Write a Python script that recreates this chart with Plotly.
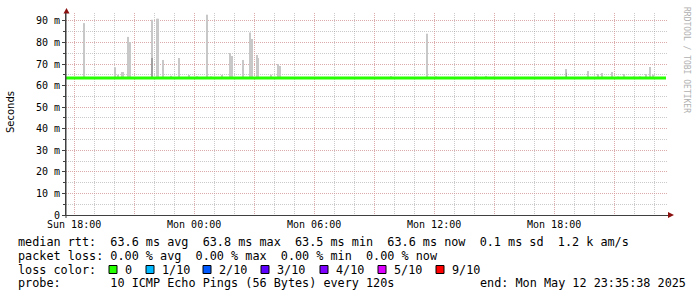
import plotly.graph_objects as go

# ---------------- data ----------------
range_start = "2025-05-11 17:35:38"
range_end = "2025-05-12 23:41:38"

median_times = [
    "2025-05-11 17:35:38", "2025-05-11 18:35:38", "2025-05-11 19:35:38", "2025-05-11 20:35:38",
    "2025-05-11 21:35:38", "2025-05-11 22:35:38", "2025-05-11 23:35:38", "2025-05-12 00:35:38",
    "2025-05-12 01:35:38", "2025-05-12 02:35:38", "2025-05-12 03:35:38", "2025-05-12 04:35:38",
    "2025-05-12 05:35:38", "2025-05-12 06:35:38", "2025-05-12 07:35:38", "2025-05-12 08:35:38",
    "2025-05-12 09:35:38", "2025-05-12 10:35:38", "2025-05-12 11:35:38", "2025-05-12 12:35:38",
    "2025-05-12 13:35:38", "2025-05-12 14:35:38", "2025-05-12 15:35:38", "2025-05-12 16:35:38",
    "2025-05-12 17:35:38", "2025-05-12 18:35:38", "2025-05-12 19:35:38", "2025-05-12 20:35:38",
    "2025-05-12 21:35:38", "2025-05-12 22:35:38", "2025-05-12 23:35:38",
]
median_ms = [63.6, 63.6, 63.5, 63.6, 63.6, 63.7, 63.6, 63.6, 63.6, 63.5, 63.6, 63.6, 63.6, 63.6,
             63.6, 63.5, 63.6, 63.6, 63.6, 63.6, 63.7, 63.6, 63.6, 63.6, 63.5, 63.6, 63.6, 63.6,
             63.6, 63.6, 63.6]

smoke_base_ms = 63.4
smoke_times = [
    "2025-05-11 18:31", "2025-05-11 20:03", "2025-05-11 20:12", "2025-05-11 20:24", "2025-05-11 20:27",
    "2025-05-11 20:43", "2025-05-11 20:48", "2025-05-11 21:54", "2025-05-11 22:08", "2025-05-11 22:12",
    "2025-05-11 22:27", "2025-05-11 22:52", "2025-05-11 23:15", "2025-05-11 23:45", "2025-05-12 00:09",
    "2025-05-12 00:40", "2025-05-12 00:51", "2025-05-12 01:25", "2025-05-12 01:48", "2025-05-12 01:53",
    "2025-05-12 02:27", "2025-05-12 02:48", "2025-05-12 02:53", "2025-05-12 03:08", "2025-05-12 03:12",
    "2025-05-12 03:51", "2025-05-12 04:12", "2025-05-12 04:17", "2025-05-12 09:52", "2025-05-12 11:40",
    "2025-05-12 12:07", "2025-05-12 14:07", "2025-05-12 14:37", "2025-05-12 15:01", "2025-05-12 18:37",
    "2025-05-12 19:42", "2025-05-12 20:12", "2025-05-12 20:24", "2025-05-12 20:54", "2025-05-12 21:12",
    "2025-05-12 21:30", "2025-05-12 22:00", "2025-05-12 22:18", "2025-05-12 22:36", "2025-05-12 22:48",
    "2025-05-12 22:57",
]
smoke_top_ms = [
    89.0, 68.5, 65.1, 66.3, 66.3,
    82.6, 80.2, 90.6, 91.0, 91.0,
    71.9, 64.6, 72.8, 64.9, 64.3,
    92.9, 64.2, 65.0, 75.1, 73.7,
    71.9, 84.6, 81.6, 74.2, 72.8,
    65.0, 70.0, 69.1, 64.5, 84.1,
    64.3, 64.3, 64.5, 64.2, 67.7,
    66.8, 65.4, 65.9, 66.3, 64.2,
    65.4, 64.3, 64.3, 65.4, 68.6,
    65.0,
]
dark_times = ["2025-05-11 21:54", "2025-05-12 18:37"]
dark_top_ms = [72.8, 66.0]

y_tick_vals = [0, 10, 20, 30, 40, 50, 60, 70, 80, 90]
y_tick_text = ["0", "10 m", "20 m", "30 m", "40 m", "50 m", "60 m", "70 m", "80 m", "90 m"]
x_tick_vals = ["2025-05-11 18:00", "2025-05-11 21:00", "2025-05-12 00:00", "2025-05-12 03:00",
               "2025-05-12 06:00", "2025-05-12 09:00", "2025-05-12 12:00", "2025-05-12 15:00",
               "2025-05-12 18:00", "2025-05-12 21:00"]
x_tick_text = ["Sun 18:00", "", "Mon 00:00", "", "Mon 06:00", "", "Mon 12:00", "", "Mon 18:00", ""]

legend_lines = [
    "median rtt:  63.6 ms avg  63.8 ms max  63.5 ms min  63.6 ms now  0.1 ms sd  1.2 k am/s",
    "packet loss: 0.00 % avg  0.00 % max  0.00 % min  0.00 % now",
    "loss color:",
    "probe:       10 ICMP Echo Pings (56 Bytes) every 120s",
]
loss_labels = ["0", "1/10", "2/10", "3/10", "4/10", "5/10", "9/10"]
loss_colors = ["#26ff00", "#00b8ff", "#0059ff", "#5e00ff", "#7e00ff", "#dd00ff", "#ff0000"]
end_text = "end: Mon May 12 23:35:38 2025"

# ---------------- geometry helpers (pixels -> paper) ----------------
W, H = 697, 297
L, R, T, B = 66, 668, 13, 215


def px(x):
    return (x - L) / (R - L)


def py(y):
    return (B - y) / (B - T)


MONO = "DejaVu Sans Mono"
MAJOR = "rgba(235,140,140,0.5)"
MINOR = "rgba(150,150,150,0.5)"

fig = go.Figure()
fig.add_trace(go.Bar(
    x=smoke_times, y=[t - smoke_base_ms for t in smoke_top_ms], base=smoke_base_ms,
    width=200000, marker=dict(color="#c8c8c8", line=dict(width=0)), hoverinfo="skip"))
fig.add_trace(go.Bar(
    x=dark_times, y=[t - smoke_base_ms for t in dark_top_ms], base=smoke_base_ms,
    width=120000, marker=dict(color="#a0a0a0", line=dict(width=0)), hoverinfo="skip"))
fig.add_trace(go.Scatter(
    x=median_times, y=median_ms, mode="lines",
    line=dict(color="#26ff00", width=3), hoverinfo="skip"))

fig.update_layout(
    width=W, height=H,
    margin=dict(l=L, r=W - R, t=T, b=H - B, pad=0),
    paper_bgcolor="white", plot_bgcolor="white",
    showlegend=False, barmode="overlay",
    font=dict(family=MONO, size=10, color="#000"),
)
fig.update_xaxes(
    type="date", range=[range_start, range_end],
    tickmode="array", tickvals=x_tick_vals, ticktext=x_tick_text,
    showgrid=True, gridcolor=MAJOR, gridwidth=1, griddash="1px,1px",
    minor=dict(dtick=3600000, tick0="2025-05-11 18:00", showgrid=True,
               gridcolor=MINOR, gridwidth=1, griddash="1px,1px"),
    showline=True, linecolor="#404040", linewidth=1,
    ticks="", zeroline=False, tickfont=dict(family=MONO, size=10, color="#000"),
    fixedrange=True,
)
fig.update_yaxes(
    range=[0, (B - T) / 2.156], tickmode="array", tickvals=y_tick_vals, ticktext=y_tick_text,
    showgrid=True, gridcolor=MAJOR, gridwidth=1, griddash="1px,1px",
    minor=dict(dtick=5, tick0=0, showgrid=True, gridcolor=MINOR, gridwidth=1, griddash="1px,1px",
               ticks="outside", ticklen=2, tickcolor="#404040"),
    showline=True, linecolor="#404040", linewidth=1,
    ticks="outside", ticklen=3, tickcolor="#404040",
    zeroline=False, tickfont=dict(family=MONO, size=10, color="#000"),
    fixedrange=True,
)

annotations = []
# y axis title
annotations.append(dict(text="Seconds", x=px(10), y=py(112), xref="paper", yref="paper",
                        textangle=-90, showarrow=False, xanchor="center", yanchor="middle",
                        font=dict(family="DejaVu Sans", size=10, color="#000")))
# watermark
annotations.append(dict(text="RRDTOOL / TOBI OETIKER", x=px(687), y=py(60), xref="paper", yref="paper",
                        textangle=90, showarrow=False, xanchor="center", yanchor="middle",
                        font=dict(family=MONO, size=8, color="#b0b0b0")))
# legend lines
FS = 11.8
line_y = [242, 255.5, 269.5, 283]
for txt, yy in zip(legend_lines, line_y):
    annotations.append(dict(text=txt.replace(" ", "&nbsp;"), x=px(16), y=py(yy), xref="paper", yref="paper",
                            showarrow=False, xanchor="left", yanchor="middle",
                            font=dict(family=MONO, size=FS, color="#000")))
annotations.append(dict(text=end_text.replace(" ", "&nbsp;"), x=px(478.3), y=py(283), xref="paper",
                        yref="paper", showarrow=False, xanchor="left", yanchor="middle",
                        font=dict(family=MONO, size=FS, color="#000")))

shapes = []
box_x = [109, 146, 203, 261, 320, 378, 436]
label_x = [123.3, 160, 217.3, 275.3, 334.3, 391.7, 450]
for bx, lx, lab, col in zip(box_x, label_x, loss_labels, loss_colors):
    shapes.append(dict(type="rect", xref="paper", yref="paper",
                       x0=px(bx), x1=px(bx + 8), y0=py(273.5), y1=py(265.5),
                       fillcolor=col, line=dict(color="#000", width=1)))
    annotations.append(dict(text=lab, x=px(lx), y=py(269.5), xref="paper", yref="paper",
                            showarrow=False, xanchor="left", yanchor="middle",
                            font=dict(family=MONO, size=FS, color="#000")))

# axis arrows
ARROW = "#8b1010"
shapes.append(dict(type="path", xref="paper", yref="paper",
                   path=f"M {px(63.5)} {py(13.5)} L {px(66.5)} {py(8)} L {px(69.5)} {py(13.5)} Z",
                   fillcolor=ARROW, line=dict(color=ARROW, width=0)))
shapes.append(dict(type="path", xref="paper", yref="paper",
                   path=f"M {px(668)} {py(212)} L {px(674)} {py(215)} L {px(668)} {py(218)} Z",
                   fillcolor=ARROW, line=dict(color=ARROW, width=0)))
shapes.append(dict(type="line", xref="paper", yref="paper",
                   x0=px(66), x1=px(66), y0=py(218), y1=py(13), line=dict(color="#404040", width=1)))

fig.update_layout(annotations=annotations, shapes=shapes)
fig.write_html("out.html")
